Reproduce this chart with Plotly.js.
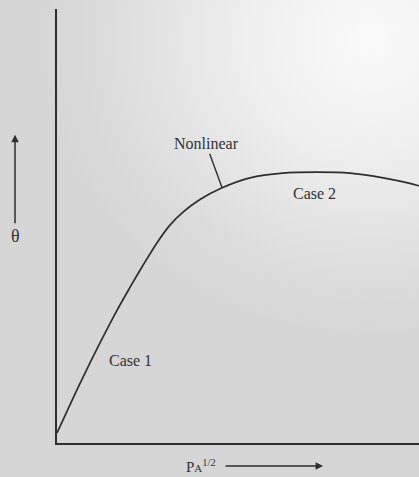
<!DOCTYPE html>
<html>
<head>
<meta charset="utf-8">
<script src="https://cdn.plot.ly/plotly-3.0.1.min.js"></script>
<style>
  html, body { margin: 0; padding: 0; }
  body {
    width: 419px; height: 477px; overflow: hidden;
    background: radial-gradient(ellipse 330px 300px at 370px 40px, #fafafa 0%, #eeeeee 40%, #dcdcdc 80%, #d6d6d6 100%);
  }
  #chart { width: 419px; height: 477px; }
</style>
</head>
<body>
<div id="chart"></div>
<script>
// Coverage θ against the square root of partial pressure P_A
const pressureRoot = [0, 0.72, 1.66, 2.02, 2.38, 2.76, 3.12, 3.48, 3.95, 4.56, 5.33, 6.24, 7.18, 8.09, 9.01, 9.94, 10];
const theta        = [0.23, 1.52, 3.06, 3.59, 4.10, 4.61, 5.02, 5.32, 5.61, 5.88, 6.11, 6.22, 6.24, 6.22, 6.11, 5.94, 5.92];

// Region labels placed on the curve
const regionLabels = ["Case 1", "Case 2"];
const regionX = [2.04, 7.10];
const regionY = [1.91, 5.76];

// Point on the curve where the "Nonlinear" pointer lands
const bendLabel = "Nonlinear";
const bendIndex = 9;

// Axis captions
const yCaption = "θ";
const xCaption = "P<span style='font-size:11px'>A</span><sup>1/2</sup>";

const ink = "#2e2e2e";
const serif = "Liberation Serif, Times New Roman, serif";

const traces = [{
  x: pressureRoot,
  y: theta,
  type: "scatter",
  mode: "lines",
  line: { color: ink, width: 1.7, shape: "spline", smoothing: 0.9 },
  hoverinfo: "skip"
}];

const axisStyle = {
  range: [0, 10],
  showline: true,
  linecolor: ink,
  linewidth: 1.8,
  showgrid: false,
  zeroline: false,
  showticklabels: false,
  ticks: ""
};

const annotations = regionLabels.map((t, i) => ({
  x: regionX[i], y: regionY[i], xref: "x", yref: "y",
  text: t, showarrow: false,
  font: { family: serif, size: 16, color: "#333" }
}));

annotations.push({
  x: pressureRoot[bendIndex], y: theta[bendIndex], xref: "x", yref: "y",
  text: bendLabel, showarrow: true, arrowhead: 0, arrowwidth: 1.4, arrowcolor: ink,
  ax: -16, ay: -44, standoff: 0,
  font: { family: serif, size: 16, color: "#333" }
});

// θ caption; its arrow points up the axis
annotations.push({
  x: -0.116, y: 0.71, xref: "paper", yref: "paper",
  text: yCaption, showarrow: true, arrowhead: 2, arrowsize: 1, arrowwidth: 1.5, arrowcolor: ink,
  ax: 0, ay: 101, standoff: 0, borderpad: 2,
  font: { family: serif, size: 18, color: "#333" }
});

// P_A^1/2 caption; its arrow points along the axis
annotations.push({
  x: 0.735, y: -0.053, xref: "paper", yref: "paper",
  text: xCaption, showarrow: true, arrowhead: 2, arrowsize: 1, arrowwidth: 1.5, arrowcolor: ink,
  ax: -122, ay: 0, standoff: 0, borderpad: 9,
  font: { family: serif, size: 15, color: "#333" }
});

const layout = {
  width: 419,
  height: 477,
  margin: { l: 57, r: 0, t: 9, b: 34 },
  paper_bgcolor: "rgba(0,0,0,0)",
  plot_bgcolor: "rgba(0,0,0,0)",
  showlegend: false,
  xaxis: Object.assign({}, axisStyle),
  yaxis: Object.assign({}, axisStyle),
  annotations: annotations
};

Plotly.newPlot("chart", traces, layout, { displayModeBar: false, staticPlot: true });
</script>
</body>
</html>
